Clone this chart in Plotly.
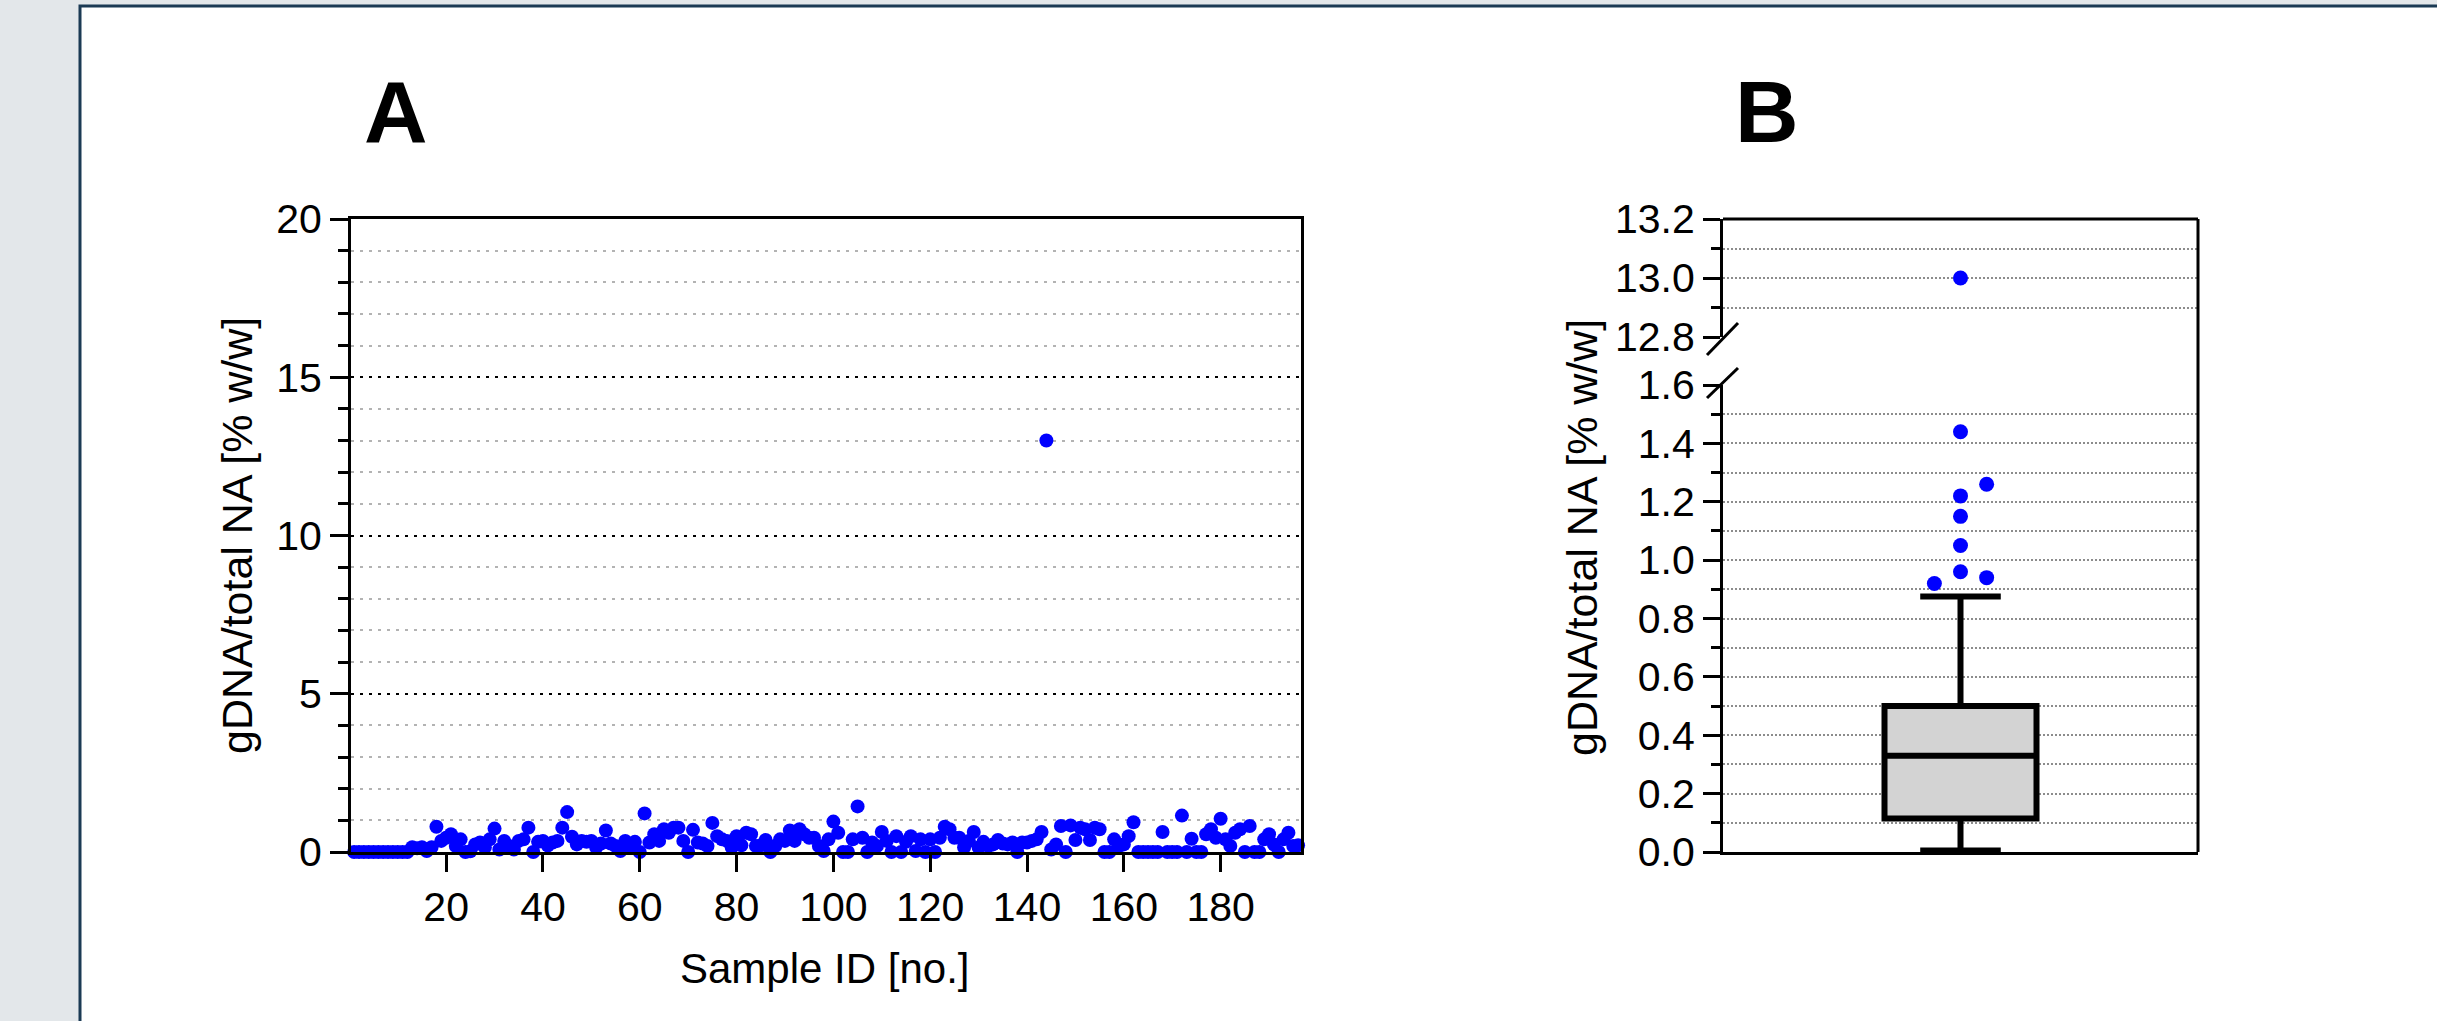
import plotly.graph_objects as go

W, H = 2437, 1021
FONT = "Liberation Sans, Arial, sans-serif"

# ---------------- data ----------------
sample_values = [
    0, 0, 0, 0, 0, 0, 0, 0, 0, 0,              # 1-10
    0, 0, 0.15, 0.12, 0.15, 0.03, 0.15, 0.8, 0.35, 0.45,   # 11-20
    0.56, 0.19, 0.4, 0.0, 0.02, 0.24, 0.3, 0.14, 0.4, 0.74,  # 21-30
    0.08, 0.35, 0.19, 0.08, 0.35, 0.4, 0.77, 0.0, 0.32, 0.35,  # 31-40
    0.2, 0.3, 0.35, 0.77, 1.26, 0.48, 0.24, 0.35, 0.32, 0.35,  # 41-50
    0.14, 0.27, 0.68, 0.27, 0.19, 0.03, 0.35, 0.19, 0.32, 0.0,  # 51-60
    1.22, 0.3, 0.56, 0.35, 0.72, 0.61, 0.77, 0.77, 0.35, 0.0,  # 61-70
    0.7, 0.3, 0.27, 0.19, 0.92, 0.5, 0.4, 0.35, 0.14, 0.5,  # 71-80
    0.21, 0.61, 0.56, 0.19, 0.21, 0.38, 0.0, 0.19, 0.4, 0.35,  # 81-90
    0.68, 0.35, 0.72, 0.56, 0.45, 0.45, 0.19, 0.03, 0.4, 0.96,  # 91-100
    0.61, 0.0, 0.0, 0.4, 1.44, 0.45, 0.0, 0.3, 0.19, 0.63,  # 101-110
    0.35, 0.0, 0.5, 0.0, 0.32, 0.5, 0.03, 0.4, 0.0, 0.4,  # 111-120
    0.0, 0.45, 0.8, 0.72, 0.45, 0.45, 0.14, 0.35, 0.63, 0.14,  # 121-130
    0.32, 0.19, 0.24, 0.38, 0.27, 0.24, 0.3, 0.0, 0.3, 0.3,  # 131-140
    0.35, 0.4, 0.63, 13.0, 0.08, 0.24, 0.82, 0.0, 0.84, 0.38,  # 141-150
    0.77, 0.72, 0.38, 0.77, 0.72, 0.0, 0.0, 0.4, 0.19, 0.24,  # 151-160
    0.5, 0.94, 0.0, 0.0, 0.0, 0.0, 0.0, 0.63, 0.0, 0.0,  # 161-170
    0.0, 1.15, 0.0, 0.42, 0.0, 0.0, 0.56, 0.72, 0.45, 1.05,  # 171-180
    0.4, 0.19, 0.61, 0.72, 0.0, 0.82, 0.0, 0.0, 0.4, 0.56,  # 181-190
    0.24, 0.0, 0.4, 0.61, 0.19, 0.21,  # 191-196
]
sample_ids = list(range(1, len(sample_values) + 1))

# box-plot summary (panel B)
box_q1 = 0.115
box_median = 0.33
box_q3 = 0.50
box_lower_whisker = 0.005
box_upper_whisker = 0.875
outlier_values = [13.0, 1.44, 1.26, 1.22, 1.15, 1.05, 0.96, 0.94, 0.92]
outlier_offsets = [0.0, 0.0, 0.11, 0.0, 0.0, 0.0, 0.0, 0.11, -0.11]
break_low, break_high = 1.6, 12.8

# tick labels
x_ticks_A = [20, 40, 60, 80, 100, 120, 140, 160, 180]
y_ticks_A = [0, 5, 10, 15, 20]
y_ticks_B_low = [0.0, 0.2, 0.4, 0.6, 0.8, 1.0, 1.2, 1.4, 1.6]
y_ticks_B_up = [12.8, 13.0, 13.2]


def fx(px):
    return px / W


def fy(py):
    return 1 - py / H


fig = go.Figure()

# Panel A scatter
fig.add_trace(go.Scatter(
    x=sample_ids, y=sample_values, mode="markers",
    marker=dict(size=14, color="#0000ff"),
    xaxis="x", yaxis="y", cliponaxis=False, showlegend=False,
))

# Panel B box
fig.add_trace(go.Box(
    x=[0], q1=[box_q1], median=[box_median], q3=[box_q3],
    lowerfence=[box_lower_whisker], upperfence=[box_upper_whisker],
    width=0.64, whiskerwidth=0.53, boxpoints=False,
    fillcolor="#d3d3d3", line=dict(color="black", width=6),
    xaxis="x2", yaxis="y2", showlegend=False,
))

low_x = [o for v, o in zip(outlier_values, outlier_offsets) if v <= break_low]
low_y = [v for v in outlier_values if v <= break_low]
up_x = [o for v, o in zip(outlier_values, outlier_offsets) if v >= break_high]
up_y = [v for v in outlier_values if v >= break_high]

fig.add_trace(go.Scatter(x=low_x, y=low_y, mode="markers",
                         marker=dict(size=15, color="#0000ff"),
                         xaxis="x2", yaxis="y2", cliponaxis=False, showlegend=False))
fig.add_trace(go.Scatter(x=up_x, y=up_y, mode="markers",
                         marker=dict(size=15, color="#0000ff"),
                         xaxis="x2", yaxis="y3", cliponaxis=False, showlegend=False))

tickfont = dict(family=FONT, size=41, color="black")
line_common = dict(showline=True, linecolor="black", linewidth=3, zeroline=False,
                   tickfont=tickfont, tickcolor="black", tickwidth=3,
                   automargin=False)

gridA_minor = dict(dtick=1, tick0=0, ticks="outside", ticklen=10, tickwidth=3,
                   tickcolor="black", showgrid=True, gridcolor="#b3b3b3",
                   gridwidth=2, griddash="3px,6px")
gridB_minor = dict(dtick=0.1, tick0=0, ticks="outside", ticklen=9, tickwidth=3,
                   tickcolor="black", showgrid=True, gridcolor="#8c8c8c",
                   gridwidth=1.5, griddash="2px,2px")

fig.update_layout(
    width=W, height=H,
    autosize=False,
    margin=dict(l=0, r=0, t=0, b=0, pad=0, autoexpand=False),
    paper_bgcolor="#e3e7ea",
    plot_bgcolor="white",
    showlegend=False,
    font=dict(family=FONT, color="black"),
    xaxis=dict(domain=[fx(351), fx(1301)], range=[0.35, 196.6], anchor="y",
               tickmode="array", tickvals=x_ticks_A, ticks="outside", ticklen=17,
               showgrid=False, mirror=True, **line_common),
    yaxis=dict(domain=[fy(852), fy(219)], range=[0, 20], anchor="x",
               tickmode="array", tickvals=y_ticks_A, ticks="outside", ticklen=18,
               showgrid=True, gridcolor="black", gridwidth=2, griddash="3px,6px",
               minor=gridA_minor, mirror=True, **line_common),
    xaxis2=dict(domain=[fx(1723), fx(2198)], range=[-1, 1], anchor="y2",
                ticks="", showticklabels=False, showgrid=False, **line_common),
    yaxis2=dict(domain=[fy(852), fy(385)], range=[0, 1.6], anchor="x2",
                tickmode="array", tickvals=y_ticks_B_low,
                ticktext=[f"{v:.1f}" for v in y_ticks_B_low],
                ticks="outside", ticklen=17, showgrid=True, gridcolor="#8c8c8c",
                gridwidth=1.5, griddash="2px,2px", minor=gridB_minor, **line_common),
    yaxis3=dict(domain=[fy(337), fy(219)], range=[12.8, 13.2], anchor="x2",
                tickmode="array", tickvals=y_ticks_B_up,
                ticktext=[f"{v:.1f}" for v in y_ticks_B_up],
                ticks="outside", ticklen=17, showgrid=True, gridcolor="#8c8c8c",
                gridwidth=1.5, griddash="2px,2px",
                minor=dict(gridB_minor, tick0=12.8), **line_common),
)

shapes = [
    # white page with dark frame
    dict(type="rect", xref="paper", yref="paper", x0=fx(80), x1=fx(W + 60),
         y0=fy(H + 60), y1=fy(6), fillcolor="white",
         line=dict(color="#1b3a54", width=3), layer="below"),
    # panel B frame: top and right
    dict(type="line", xref="paper", yref="paper", x0=fx(1723), x1=fx(2198),
         y0=fy(219), y1=fy(219), line=dict(color="black", width=3)),
    dict(type="line", xref="paper", yref="paper", x0=fx(2198), x1=fx(2198),
         y0=fy(852), y1=fy(219), line=dict(color="black", width=3)),
    # axis-break slashes
    dict(type="line", xref="paper", yref="paper", x0=fx(1707), x1=fx(1738),
         y0=fy(355), y1=fy(323), line=dict(color="black", width=3)),
    dict(type="line", xref="paper", yref="paper", x0=fx(1707), x1=fx(1738),
         y0=fy(398), y1=fy(368), line=dict(color="black", width=3)),
]

ytitle = "gDNA/total NA [% w/w]"
annotations = [
    dict(text="<b>A</b>", x=fx(396), y=fy(112), xref="paper", yref="paper",
         showarrow=False, font=dict(family=FONT, size=88, color="black"),
         xanchor="center", yanchor="middle"),
    dict(text="<b>B</b>", x=fx(1767), y=fy(112), xref="paper", yref="paper",
         showarrow=False, font=dict(family=FONT, size=88, color="black"),
         xanchor="center", yanchor="middle"),
    dict(text=ytitle, x=fx(237), y=fy(536), xref="paper", yref="paper",
         showarrow=False, textangle=-90, font=dict(family=FONT, size=43, color="black"),
         xanchor="center", yanchor="middle"),
    dict(text=ytitle, x=fx(1582), y=fy(538), xref="paper", yref="paper",
         showarrow=False, textangle=-90, font=dict(family=FONT, size=43, color="black"),
         xanchor="center", yanchor="middle"),
    dict(text="Sample ID [no.]", x=fx(824), y=fy(968), xref="paper", yref="paper",
         showarrow=False, font=dict(family=FONT, size=42, color="black"),
         xanchor="center", yanchor="middle"),
]

fig.update_layout(shapes=shapes, annotations=annotations)

fig.write_html(
    "out.html",
    config={"displayModeBar": False},
    post_script="document.body.style.margin='0px';document.body.style.overflow='hidden';",
)
